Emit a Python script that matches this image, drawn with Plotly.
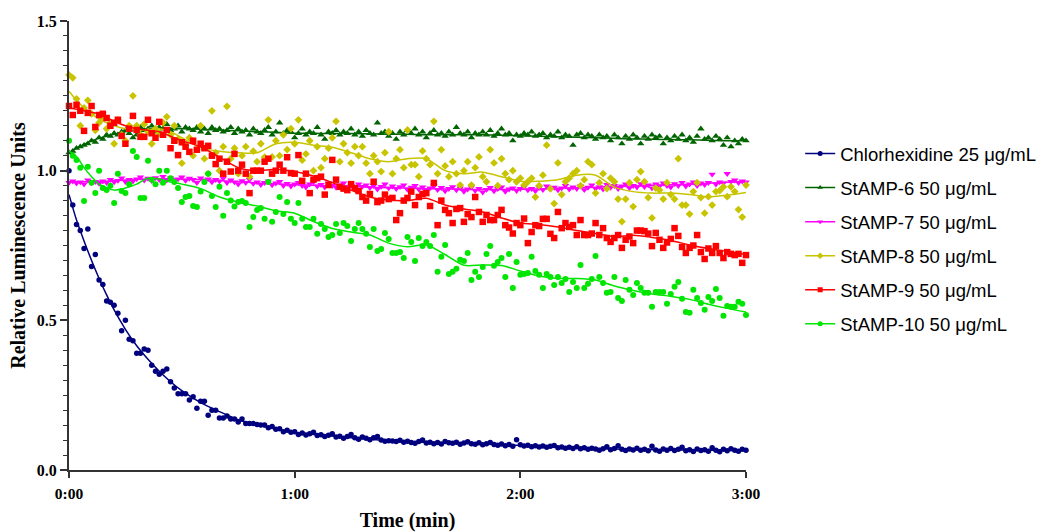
import plotly.graph_objects as go

# ---------------- data ----------------
time_s = list(range(0, 181))  # seconds, one reading per second

chlorhexidine = [
    1.00, 0.885, 0.82, 0.80, 0.74, 0.805, 0.68, 0.72, 0.635, 0.62,
    0.565, 0.56, 0.55, 0.524, 0.465, 0.50, 0.437, 0.432, 0.39, 0.39,
    0.404, 0.40, 0.35, 0.33, 0.32, 0.33, 0.337, 0.295, 0.274, 0.255,
    0.255, 0.255, 0.234, 0.245, 0.206, 0.23, 0.23, 0.183, 0.20, 0.20,
    0.174, 0.174, 0.18, 0.17, 0.17, 0.16, 0.17, 0.155, 0.155, 0.155,
    0.152, 0.15, 0.150, 0.141, 0.145, 0.136, 0.138, 0.128, 0.133, 0.126,
    0.128, 0.119, 0.124, 0.117, 0.121, 0.126, 0.115, 0.118, 0.112, 0.116,
    0.121, 0.110, 0.113, 0.106, 0.112, 0.119, 0.108, 0.103, 0.110, 0.106,
    0.101, 0.108, 0.112, 0.100, 0.096, 0.098, 0.097, 0.095, 0.099, 0.093,
    0.096, 0.092, 0.089, 0.095, 0.100, 0.090, 0.093, 0.088, 0.092, 0.087,
    0.095, 0.091, 0.089, 0.093, 0.086, 0.090, 0.094, 0.088, 0.086, 0.091,
    0.084, 0.088, 0.092, 0.085, 0.083, 0.087, 0.081, 0.085, 0.079, 0.101,
    0.084, 0.080, 0.083, 0.078, 0.081, 0.077, 0.080, 0.076, 0.079, 0.082,
    0.074, 0.077, 0.073, 0.076, 0.072, 0.078, 0.071, 0.074, 0.069, 0.073,
    0.070, 0.066, 0.071, 0.078, 0.068, 0.072, 0.081, 0.069, 0.065, 0.070,
    0.067, 0.073, 0.066, 0.069, 0.064, 0.079, 0.067, 0.063, 0.070, 0.066,
    0.072, 0.065, 0.069, 0.076, 0.064, 0.068, 0.062, 0.070, 0.065, 0.068,
    0.063, 0.074, 0.066, 0.061, 0.069, 0.064, 0.071, 0.066, 0.063, 0.069,
    0.066,
]

stamp6 = [
    1.06, 1.065, 1.075, 1.08, 1.085, 1.09, 1.10, 1.095, 1.11, 1.105,
    1.12, 1.115, 1.125, 1.12, 1.13, 1.135, 1.125, 1.11, 1.12, 1.145,
    1.135, 1.14, 1.15, 1.13, 1.145, 1.14, 1.155, 1.135, 1.14, 1.15,
    1.13, 1.145, 1.14, 1.135, 1.145, 1.13, 1.14, 1.125, 1.145, 1.135,
    1.14, 1.13, 1.135, 1.145, 1.125, 1.14, 1.13, 1.135, 1.12, 1.14,
    1.13, 1.125, 1.135, 1.145, 1.12, 1.13, 1.16, 1.125, 1.135, 1.13,
    1.11, 1.125, 1.14, 1.12, 1.13, 1.125, 1.145, 1.12, 1.105, 1.13,
    1.125, 1.135, 1.12, 1.13, 1.125, 1.14, 1.12, 1.13, 1.115, 1.135,
    1.125, 1.12, 1.16, 1.125, 1.13, 1.115, 1.125, 1.105, 1.13, 1.12,
    1.135, 1.125, 1.14, 1.12, 1.13, 1.11, 1.125, 1.135, 1.12, 1.125,
    1.115, 1.13, 1.12, 1.145, 1.125, 1.12, 1.13, 1.11, 1.125, 1.12,
    1.13, 1.12, 1.135, 1.115, 1.125, 1.14, 1.12, 1.125, 1.10, 1.12,
    1.115, 1.125, 1.12, 1.13, 1.115, 1.12, 1.125, 1.11, 1.12, 1.115,
    1.13, 1.11, 1.12, 1.115, 1.085, 1.12, 1.125, 1.11, 1.12, 1.115,
    1.105, 1.12, 1.11, 1.115, 1.10, 1.12, 1.11, 1.09, 1.115, 1.105,
    1.12, 1.11, 1.09, 1.115, 1.105, 1.12, 1.11, 1.115, 1.09, 1.11,
    1.10, 1.115, 1.105, 1.12, 1.10, 1.11, 1.095, 1.115, 1.14, 1.105,
    1.11, 1.10, 1.115, 1.105, 1.085, 1.11, 1.08, 1.10, 1.09, 1.105,
    1.10,
]

stamp7 = [
    0.96, 0.965, 0.958, 0.962, 0.955, 0.968, 0.96, 0.963, 0.957, 0.965,
    0.96, 0.97, 0.962, 0.967, 0.975, 0.963, 0.97, 0.965, 0.972, 0.978,
    0.968, 0.974, 0.966, 0.976, 0.97, 0.98, 0.968, 0.975, 0.965, 0.972,
    0.978, 0.967, 0.974, 0.97, 0.96, 0.975, 0.968, 0.972, 0.962, 0.97,
    0.965, 0.975, 0.96, 0.968, 0.962, 0.955, 0.966, 0.96, 0.97, 0.957,
    0.962, 0.953, 0.96, 0.965, 0.952, 0.958, 0.963, 0.95, 0.957, 0.948,
    0.955, 0.96, 0.95, 0.945, 0.955, 0.962, 0.948, 0.953, 0.945, 0.958,
    0.95, 0.944, 0.952, 0.958, 0.946, 0.95, 0.94, 0.955, 0.947, 0.952,
    0.943, 0.95, 0.938, 0.947, 0.955, 0.942, 0.948, 0.94, 0.946, 0.952,
    0.937, 0.944, 0.95, 0.938, 0.945, 0.935, 0.942, 0.948, 0.936, 0.943,
    0.932, 0.94, 0.946, 0.935, 0.942, 0.93, 0.938, 0.945, 0.933, 0.94,
    0.928, 0.937, 0.943, 0.932, 0.94, 0.945, 0.93, 0.938, 0.942, 0.933,
    0.94, 0.945, 0.935, 0.94, 0.932, 0.943, 0.936, 0.948, 0.938, 0.944,
    0.935, 0.942, 0.95, 0.938, 0.945, 0.94, 0.948, 0.936, 0.944, 0.952,
    0.94, 0.946, 0.938, 0.953, 0.944, 0.95, 0.94, 0.948, 0.955, 0.942,
    0.95, 0.945, 0.956, 0.946, 0.952, 0.942, 0.955, 0.948, 0.958, 0.95,
    0.945, 0.956, 0.95, 0.96, 0.948, 0.955, 0.962, 0.95, 0.958, 0.953,
    0.96, 0.988, 0.955, 0.962, 0.958, 0.99, 0.963, 0.968, 0.96, 0.965,
    0.962,
]

stamp8 = [
    1.32, 1.31, 1.24, 1.15, 1.21, 1.235, 1.19, 1.135, 1.16, 1.175,
    1.14, 1.16, 1.09, 1.17, 1.12, 1.10, 1.15, 1.25, 1.15, 1.12,
    1.155, 1.13, 1.09, 1.14, 1.125, 1.16, 1.18, 1.12, 1.15, 1.105,
    1.025, 1.085, 1.11, 1.05, 1.07, 1.15, 1.04, 0.99, 1.20, 1.06,
    1.00, 1.08, 1.215, 1.04, 1.075, 0.99, 1.05, 1.08, 0.98, 1.065,
    1.03, 1.09, 1.045, 1.17, 1.046, 1.10, 1.05, 1.12, 1.07, 1.14,
    1.09, 1.17, 1.035, 1.056, 1.10, 1.00, 1.08, 1.01, 1.04, 1.075,
    1.11, 1.165, 1.03, 1.09, 1.06, 1.025, 1.08, 1.05, 1.08, 1.025,
    0.99, 1.05, 1.03, 0.997, 1.06, 1.13, 0.99, 1.04, 1.07, 1.01,
    1.136, 1.02, 1.02, 0.98, 1.066, 1.04, 1.02, 1.165, 0.99, 1.07,
    1.016, 0.98, 1.03, 0.99, 0.952, 1.00, 1.03, 0.952, 1.01, 1.046,
    0.98, 0.963, 1.07, 1.026, 0.95, 1.04, 0.99, 0.97, 1.00, 0.963,
    0.975, 0.952, 0.963, 0.975, 0.912, 0.95, 0.985, 1.085, 0.94, 0.89,
    1.026, 0.92, 0.963, 0.975, 0.99, 1.00, 0.95, 0.97, 1.03, 1.02,
    0.925, 0.96, 0.99, 0.94, 0.975, 0.963, 0.905, 0.83, 0.905, 0.96,
    0.88, 0.97, 0.997, 0.963, 0.91, 0.842, 0.942, 0.935, 0.905, 0.96,
    0.92, 0.905, 1.04, 0.885, 0.885, 0.855, 0.93, 0.96, 0.91, 0.858,
    0.913, 0.885, 0.93, 0.933, 0.946, 0.913, 0.946, 0.93, 0.87, 0.845,
    0.952,
]

stamp9 = [
    1.216, 1.186, 1.22, 1.20, 1.133, 1.193, 1.216, 1.146, 1.186, 1.19,
    1.176, 1.15, 1.16, 1.17, 1.116, 1.09, 1.14, 1.183, 1.136, 1.113,
    1.113, 1.17, 1.125, 1.11, 1.163, 1.12, 1.136, 1.075, 1.10, 1.052,
    1.095, 1.08, 1.063, 1.10, 1.07, 1.09, 1.075, 1.083, 1.05, 1.022,
    1.04, 0.99, 1.03, 0.997, 1.056, 1.00, 1.02, 0.99, 0.925, 1.00,
    1.00, 1.00, 1.03, 1.04, 0.99, 1.00, 1.02, 1.00, 1.045, 0.992,
    0.99, 1.052, 0.966, 0.99, 0.925, 0.97, 0.975, 0.98, 0.92, 0.952,
    1.036, 0.97, 0.946, 0.94, 0.935, 0.955, 0.942, 0.932, 0.912, 0.90,
    0.922, 0.963, 0.895, 0.90, 0.92, 0.905, 0.909, 0.835, 0.858, 0.90,
    0.909, 0.93, 0.885, 0.912, 0.922, 0.925, 0.882, 0.959, 0.818, 0.90,
    0.869, 0.858, 0.825, 0.872, 0.875, 0.829, 0.855, 0.845, 0.912, 0.862,
    0.829, 0.852, 0.835, 0.835, 0.852, 0.869, 0.818, 0.81, 0.79, 0.825,
    0.818, 0.84, 0.758, 0.795, 0.818, 0.815, 0.839, 0.839, 0.789, 0.775,
    0.862, 0.808, 0.825, 0.812, 0.818, 0.785, 0.835, 0.785, 0.785, 0.79,
    0.825, 0.785, 0.808, 0.775, 0.762, 0.775, 0.785, 0.742, 0.769, 0.78,
    0.758, 0.80, 0.80, 0.798, 0.79, 0.748, 0.792, 0.769, 0.742, 0.76,
    0.772, 0.808, 0.782, 0.745, 0.725, 0.742, 0.75, 0.785, 0.728, 0.705,
    0.74, 0.725, 0.748, 0.725, 0.708, 0.728, 0.722, 0.718, 0.722, 0.692,
    0.718,
]

stamp10 = [
    1.10, 1.05, 1.036, 1.01, 0.899, 1.013, 0.96, 0.925, 1.00, 0.942,
    0.935, 0.95, 0.892, 0.99, 0.932, 0.925, 0.955, 1.066, 1.046, 0.909,
    0.909, 1.033, 0.97, 0.955, 1.00, 0.96, 1.00, 0.975, 0.962, 0.942,
    0.895, 0.912, 0.915, 0.882, 0.879, 0.93, 0.962, 0.99, 0.915, 0.879,
    0.946, 0.849, 0.925, 0.90, 0.88, 0.895, 0.899, 0.892, 0.812, 0.845,
    0.869, 0.875, 0.839, 0.962, 0.829, 0.862, 0.912, 0.855, 0.895, 0.839,
    0.825, 0.892, 0.839, 0.812, 0.812, 0.839, 0.789, 0.822, 0.805, 0.778,
    0.785, 0.822, 0.792, 0.825, 0.815, 0.765, 0.805, 0.825, 0.805, 0.789,
    0.745, 0.805, 0.732, 0.738, 0.792, 0.772, 0.725, 0.725, 0.728, 0.708,
    0.778, 0.762, 0.698, 0.775, 0.748, 0.762, 0.748, 0.785, 0.662, 0.712,
    0.752, 0.655, 0.662, 0.672, 0.702, 0.698, 0.725, 0.635, 0.662, 0.645,
    0.678, 0.722, 0.748, 0.682, 0.695, 0.708, 0.645, 0.722, 0.608, 0.695,
    0.652, 0.655, 0.658, 0.712, 0.665, 0.652, 0.608, 0.655, 0.645, 0.618,
    0.645, 0.625, 0.638, 0.595, 0.628, 0.608, 0.685, 0.608, 0.622, 0.638,
    0.715, 0.645, 0.625, 0.592, 0.595, 0.645, 0.575, 0.565, 0.635, 0.602,
    0.585, 0.625, 0.608, 0.592, 0.592, 0.545, 0.595, 0.595, 0.595, 0.555,
    0.588, 0.612, 0.628, 0.572, 0.528, 0.525, 0.602, 0.575, 0.558, 0.535,
    0.578, 0.565, 0.605, 0.575, 0.515, 0.548, 0.545, 0.545, 0.562, 0.555,
    0.518,
]

# smoothed curves
smooth_time = [0, 2, 4, 6, 8, 10, 12, 15, 18, 21, 24, 27, 30, 35, 40, 45, 50, 55,
               60, 65, 70, 75, 80, 85, 90, 95, 100, 105, 110, 115, 120, 125, 130,
               135, 140, 145, 150, 155, 160, 165, 170, 175, 180]

chlorhexidine_smooth = [0.92, 0.835, 0.765, 0.70, 0.64, 0.585, 0.535, 0.47, 0.415, 0.37,
                        0.33, 0.295, 0.265, 0.225, 0.195, 0.168, 0.15, 0.137, 0.125,
                        0.119, 0.114, 0.108, 0.103, 0.098, 0.094, 0.092, 0.090, 0.089,
                        0.087, 0.085, 0.082, 0.079, 0.076, 0.074, 0.072, 0.070, 0.069,
                        0.068, 0.067, 0.067, 0.066, 0.066, 0.066]
stamp6_smooth = [1.06, 1.075, 1.088, 1.10, 1.108, 1.115, 1.122, 1.13, 1.135, 1.14,
                 1.142, 1.142, 1.14, 1.138, 1.136, 1.133, 1.13, 1.128, 1.125, 1.125,
                 1.124, 1.124, 1.123, 1.122, 1.122, 1.12, 1.12, 1.12, 1.12, 1.118,
                 1.117, 1.115, 1.113, 1.112, 1.11, 1.108, 1.106, 1.105, 1.104, 1.103,
                 1.102, 1.10, 1.10]
stamp7_smooth = [0.963, 0.963, 0.963, 0.963, 0.964, 0.965, 0.967, 0.969, 0.971, 0.972,
                 0.973, 0.973, 0.972, 0.97, 0.967, 0.963, 0.959, 0.956, 0.953, 0.951,
                 0.949, 0.947, 0.945, 0.943, 0.942, 0.94, 0.939, 0.938, 0.937, 0.937,
                 0.938, 0.939, 0.941, 0.943, 0.945, 0.947, 0.949, 0.951, 0.953, 0.955,
                 0.958, 0.961, 0.963]
stamp8_smooth = [1.265, 1.235, 1.21, 1.19, 1.172, 1.16, 1.15, 1.14, 1.135, 1.137,
                 1.14, 1.13, 1.11, 1.077, 1.065, 1.06, 1.06, 1.09, 1.095, 1.085,
                 1.078, 1.06, 1.04, 1.03, 1.04, 1.04, 1.00, 0.99, 0.995, 0.98,
                 0.965, 0.965, 0.97, 0.985, 0.985, 0.945, 0.93, 0.925, 0.925, 0.92,
                 0.912, 0.918, 0.927]
stamp9_smooth = [1.21, 1.205, 1.20, 1.195, 1.19, 1.178, 1.165, 1.15, 1.14, 1.135,
                 1.13, 1.115, 1.10, 1.08, 1.045, 1.01, 1.00, 1.005, 0.997, 0.982,
                 0.96, 0.935, 0.912, 0.902, 0.90, 0.908, 0.885, 0.872, 0.862, 0.842,
                 0.825, 0.82, 0.812, 0.80, 0.79, 0.78, 0.784, 0.777, 0.767, 0.752,
                 0.74, 0.73, 0.72]
stamp10_smooth = [1.065, 1.047, 1.01, 0.98, 0.955, 0.943, 0.935, 0.942, 0.955, 0.975,
                  0.972, 0.962, 0.955, 0.94, 0.912, 0.895, 0.882, 0.866, 0.858, 0.83,
                  0.807, 0.795, 0.785, 0.758, 0.746, 0.752, 0.72, 0.684, 0.685, 0.683,
                  0.665, 0.648, 0.64, 0.64, 0.635, 0.615, 0.60, 0.588, 0.58, 0.57,
                  0.554, 0.54, 0.528]

series_names = ["Chlorhexidine 25 \u03bcg/mL", "StAMP-6 50 \u03bcg/mL", "StAMP-7 50 \u03bcg/mL",
                "StAMP-8 50 \u03bcg/mL", "StAMP-9 50 \u03bcg/mL", "StAMP-10 50 \u03bcg/mL"]
x_tick_values = [0, 60, 120, 180]
x_tick_labels = ["0:00", "1:00", "2:00", "3:00"]
y_tick_values = [0.0, 0.5, 1.0, 1.5]
y_tick_labels = ["0.0", "0.5", "1.0", "1.5"]

# ---------------- styles ----------------
points = [chlorhexidine, stamp6, stamp7, stamp8, stamp9, stamp10]
smooths = [chlorhexidine_smooth, stamp6_smooth, stamp7_smooth, stamp8_smooth,
           stamp9_smooth, stamp10_smooth]
colors = ["#00007f", "#006400", "#ff00ff", "#c8c400", "#ff0000", "#00e600"]
symbols = ["circle", "triangle-up", "triangle-down", "diamond", "square", "circle"]
sizes = [5.5, 6.5, 6.5, 6, 6.5, 6]

fig = go.Figure()
for i in range(6):
    fig.add_trace(go.Scatter(
        x=time_s, y=points[i], mode="markers", showlegend=False, cliponaxis=False,
        marker=dict(color=colors[i], symbol=symbols[i], size=sizes[i], line=dict(width=0)),
        hoverinfo="skip"))
    fig.add_trace(go.Scatter(
        x=smooth_time, y=smooths[i], mode="lines", showlegend=False, cliponaxis=False,
        line=dict(color=colors[i], width=1.5, shape="spline", smoothing=0.8),
        hoverinfo="skip"))
for i in range(6):
    fig.add_trace(go.Scatter(
        x=[None], y=[None], mode="lines+markers", name=series_names[i],
        legendgroup=f"g{i}",
        line=dict(color=colors[i], width=1.5),
        marker=dict(color=colors[i], symbol=symbols[i], size=5)))

serif = "Liberation Serif, Times New Roman, serif"
fig.update_layout(
    width=1047, height=532,
    paper_bgcolor="white", plot_bgcolor="white",
    margin=dict(l=69, r=301, t=21, b=62, autoexpand=False),
    font=dict(family=serif, color="black"),
    showlegend=True,
    legend=dict(
        x=1.08, xanchor="left", y=0.746, yanchor="top",
        font=dict(family="Liberation Sans, Arial, sans-serif", size=18.5, color="black"),
        traceorder="grouped", tracegroupgap=7,
        bgcolor="rgba(0,0,0,0)", itemwidth=30),
    xaxis=dict(
        range=[0, 180], tickmode="array", tickvals=x_tick_values, ticktext=x_tick_labels,
        ticks="outside", ticklen=6, tickwidth=1.5, tickcolor="#333333",
        showline=True, linecolor="#333333", linewidth=2, automargin=False,
        showgrid=False, zeroline=False, ticklabelstandoff=2,
        tickfont=dict(family=serif, size=15.5, color="black", weight="bold"),
        title=dict(text="<b>Time (min)</b>", font=dict(family=serif, size=20, color="black"),
                   standoff=12)),
    yaxis=dict(
        range=[0, 1.5], tickmode="array", tickvals=y_tick_values, ticktext=y_tick_labels,
        ticks="outside", ticklen=7, tickwidth=1.5, tickcolor="#333333",
        minor=dict(dtick=0.05, tick0=0, ticks="outside", ticklen=4, tickwidth=1,
                   tickcolor="#333333"),
        showline=True, linecolor="#333333", linewidth=2, automargin=False,
        showgrid=False, zeroline=False,
        tickfont=dict(family=serif, size=16, color="black", weight="bold"),
        title=dict(text="<b>Relative Luminescence Units</b>",
                   font=dict(family=serif, size=20, color="black"), standoff=6)),
)

fig.write_html("out.html", config={"displayModeBar": False},
               post_script="document.body.style.margin='0';document.body.style.overflow='hidden';")
